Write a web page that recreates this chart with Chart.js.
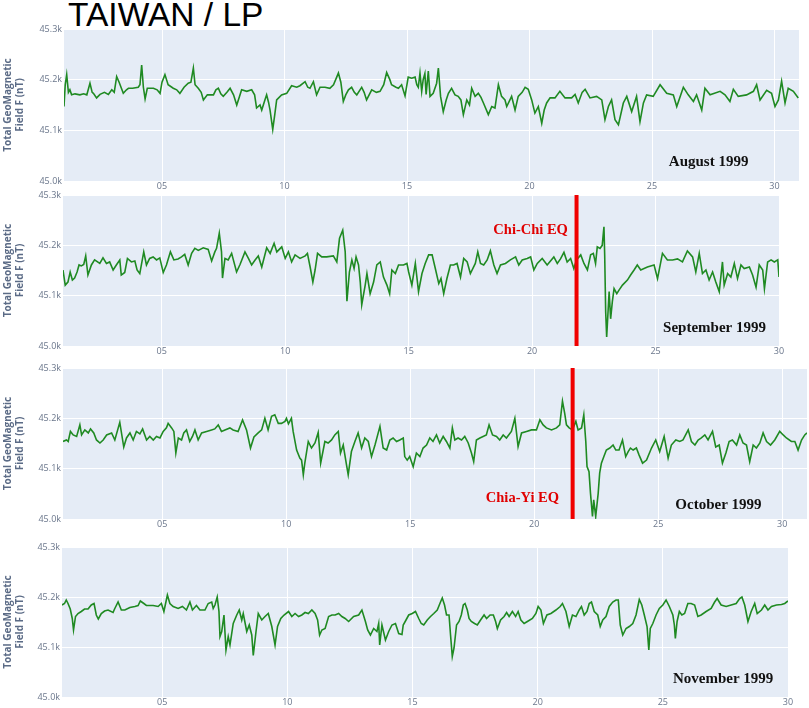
<!DOCTYPE html>
<html>
<head>
<meta charset="utf-8">
<script src="https://cdn.jsdelivr.net/npm/chart.js@4.4.1/dist/chart.umd.min.js"></script>
<style>
  html, body { margin: 0; padding: 0; background: #fff; overflow: hidden; }
  #page { position: relative; width: 809px; height: 708px; }
  #page canvas { position: absolute; left: 0; }
  #title { position: absolute; left: 68px; top: -2px; font: 33.5px/1 'Liberation Sans', Arial, sans-serif; color: #000; white-space: nowrap; }
</style>
</head>
<body>
<div id="page">
  <div id="title">TAIWAN / LP</div>
  <canvas id="aug"></canvas>
  <canvas id="sep"></canvas>
  <canvas id="oct"></canvas>
  <canvas id="nov"></canvas>
</div>
<script>
// axis ticks
const xTicks = [5, 10, 15, 20, 25, 30];
const xTickLabels = ['05', '10', '15', '20', '25', '30'];
const yTicks = [45000, 45100, 45200, 45300];
const yTickLabels = ['45.0k', '45.1k', '45.2k', '45.3k'];
const monthNames = ['August 1999', 'September 1999', 'October 1999', 'November 1999'];
const eqNames = ['Chi-Chi EQ', 'Chia-Yi EQ'];
const chiChiDay = 21.8;
const chiaYiDay = 21.55;

// total field F (nT), day of month
const augDays = [
  1.00,1.05,1.11,1.18,1.24,1.31,1.45,1.65,1.80,1.93,
  2.06,2.15,2.20,2.33,2.47,2.65,2.81,2.95,3.05,3.15,
  3.25,3.42,3.55,3.63,3.80,4.03,4.10,4.17,4.24,4.31,
  4.40,4.65,4.80,4.92,5.00,5.12,5.25,5.46,5.60,5.73,
  5.90,6.07,6.18,6.28,6.35,6.48,6.60,6.69,6.85,7.10,
  7.20,7.30,7.40,7.50,7.65,7.78,7.92,8.05,8.15,8.25,
  8.46,8.66,8.78,8.86,9.00,9.07,9.20,9.27,9.35,9.41,
  9.52,9.60,9.68,9.88,10.09,10.29,10.50,10.63,10.84,10.95,
  11.04,11.18,11.31,11.45,11.65,11.85,12.00,12.20,12.30,12.40,
  12.50,12.61,12.74,12.85,12.95,13.15,13.25,13.35,13.56,13.75,
  13.90,14.05,14.17,14.30,14.37,14.55,14.65,14.78,14.92,15.05,
  15.19,15.33,15.40,15.46,15.53,15.60,15.66,15.73,15.78,15.87,
  15.94,16.07,16.21,16.28,16.37,16.48,16.60,16.69,16.82,16.96,
  17.09,17.20,17.30,17.44,17.55,17.64,17.78,17.91,18.02,18.12,
  18.32,18.46,18.59,18.73,18.86,19.00,19.07,19.27,19.41,19.54,
  19.70,19.82,19.95,20.09,20.22,20.36,20.50,20.60,20.70,20.84,
  21.04,21.24,21.45,21.72,21.86,21.99,22.15,22.27,22.47,22.74,
  22.95,23.08,23.22,23.35,23.49,23.63,23.83,23.97,24.17,24.37,
  24.51,24.65,24.78,25.05,25.33,25.60,25.87,26.01,26.28,26.48,
  26.69,26.82,27.03,27.16,27.37,27.78,27.98,28.18,28.32,28.52,
  28.86,29.14,29.27,29.41,29.68,29.88,30.02,30.16,30.29,30.43,
  30.56,30.77,30.97
];
const augField = [
  45147,45190,45210,45175,45180,45170,45172,45170,45172,45170,
  45193,45175,45173,45164,45171,45175,45171,45180,45175,45206,
  45195,45173,45180,45183,45183,45185,45190,45229,45185,45162,
  45183,45183,45180,45173,45195,45210,45190,45183,45180,45173,
  45185,45193,45195,45223,45190,45183,45175,45160,45170,45170,
  45180,45183,45172,45167,45175,45183,45170,45150,45165,45180,
  45177,45180,45170,45144,45150,45140,45160,45170,45155,45140,
  45102,45130,45160,45170,45173,45188,45185,45188,45196,45185,
  45183,45196,45170,45185,45185,45183,45190,45213,45195,45157,
  45170,45180,45185,45175,45170,45185,45175,45160,45180,45175,
  45177,45190,45214,45200,45190,45185,45183,45190,45168,45205,
  45203,45205,45190,45185,45213,45177,45200,45212,45171,45217,
  45167,45173,45193,45223,45167,45137,45160,45173,45183,45170,
  45167,45160,45131,45160,45150,45183,45167,45173,45165,45154,
  45131,45147,45144,45190,45167,45160,45147,45167,45140,45167,
  45175,45185,45181,45160,45134,45147,45114,45140,45154,45164,
  45164,45177,45164,45164,45171,45154,45175,45181,45164,45167,
  45160,45121,45147,45160,45121,45111,45154,45167,45137,45167,
  45117,45154,45170,45167,45190,45173,45170,45147,45185,45170,
  45157,45170,45140,45183,45170,45177,45170,45157,45181,45167,
  45170,45177,45190,45160,45179,45173,45147,45160,45197,45154,
  45183,45177,45164
];

const sepDays = [
  1.00,1.09,1.20,1.29,1.38,1.47,1.57,1.65,1.74,1.84,
  1.92,2.01,2.15,2.28,2.49,2.62,2.76,2.89,3.03,3.16,
  3.30,3.36,3.50,3.61,3.77,3.91,4.00,4.11,4.27,4.38,
  4.51,4.65,4.79,4.92,5.06,5.19,5.35,5.49,5.66,5.80,
  5.93,6.07,6.21,6.34,6.48,6.68,6.88,7.02,7.15,7.22,
  7.33,7.42,7.46,7.56,7.69,7.83,8.03,8.17,8.37,8.51,
  8.64,8.78,8.91,9.05,9.25,9.39,9.55,9.66,9.86,10.00,
  10.13,10.26,10.40,10.60,10.81,10.90,11.01,11.12,11.21,11.31,
  11.48,11.68,11.95,12.09,12.20,12.33,12.43,12.50,12.60,12.70,
  12.79,12.87,12.97,13.04,13.10,13.24,13.31,13.44,13.58,13.71,
  13.85,13.98,14.12,14.23,14.32,14.46,14.59,14.79,14.93,15.00,
  15.13,15.27,15.40,15.54,15.67,15.81,15.95,16.08,16.22,16.31,
  16.42,16.55,16.69,16.82,16.96,17.10,17.23,17.37,17.50,17.70,
  17.80,17.91,18.04,18.18,18.31,18.45,18.58,18.72,18.92,19.12,
  19.33,19.46,19.60,19.80,19.94,20.07,20.21,20.41,20.61,20.88,
  21.02,21.15,21.29,21.42,21.56,21.69,21.80,21.97,22.10,22.24,
  22.37,22.48,22.57,22.64,22.75,22.84,22.91,22.94,22.98,23.02,
  23.12,23.18,23.25,23.32,23.43,23.52,23.66,23.86,23.99,24.13,
  24.26,24.40,24.67,24.94,25.08,25.28,25.48,25.69,25.89,26.09,
  26.29,26.50,26.63,26.77,26.90,27.04,27.17,27.31,27.44,27.58,
  27.71,27.78,27.92,28.05,28.19,28.32,28.46,28.59,28.80,28.93,
  29.07,29.20,29.34,29.41,29.54,29.68,29.81,29.95,30.00
];
const sepField = [
  45151,45121,45127,45147,45131,45135,45147,45161,45159,45162,
  45179,45141,45161,45171,45164,45175,45164,45167,45151,45161,
  45171,45141,45146,45174,45167,45169,45151,45144,45187,45161,
  45174,45177,45171,45175,45146,45161,45187,45171,45173,45177,
  45182,45161,45184,45194,45190,45195,45192,45169,45187,45194,
  45224,45187,45135,45174,45171,45184,45147,45162,45187,45174,
  45161,45171,45179,45157,45195,45184,45204,45187,45197,45174,
  45187,45167,45181,45174,45179,45184,45157,45127,45151,45184,
  45177,45177,45179,45167,45214,45230,45187,45089,45147,45171,
  45154,45177,45161,45127,45082,45121,45144,45104,45127,45161,
  45167,45137,45121,45104,45151,45144,45161,45161,45164,45147,
  45121,45164,45108,45144,45164,45181,45181,45154,45124,45134,
  45104,45134,45161,45161,45164,45137,45174,45167,45144,45164,
  45187,45164,45161,45171,45189,45161,45144,45161,45164,45171,
  45177,45161,45171,45174,45177,45151,45164,45174,45161,45177,
  45164,45173,45186,45167,45174,45154,45171,45181,45164,45151,
  45181,45184,45164,45197,45194,45200,45237,45181,45068,45018,
  45108,45054,45088,45114,45104,45111,45121,45131,45141,45151,
  45161,45151,45157,45161,45134,45184,45171,45171,45173,45167,
  45189,45177,45147,45184,45144,45151,45131,45147,45127,45108,
  45167,45121,45144,45137,45164,45134,45161,45154,45157,45141,
  45117,45161,45151,45114,45167,45171,45167,45171,45137
];

const octDays = [
  1.00,1.14,1.21,1.30,1.41,1.55,1.68,1.75,1.88,2.02,
  2.11,2.24,2.35,2.49,2.62,2.76,2.96,3.09,3.29,3.45,
  3.56,3.70,3.83,3.96,4.10,4.21,4.37,4.50,4.64,4.77,
  4.91,5.04,5.17,5.24,5.38,5.47,5.55,5.65,5.78,5.87,
  5.98,6.11,6.22,6.32,6.45,6.59,6.79,6.99,7.12,7.26,
  7.39,7.53,7.73,7.86,8.06,8.24,8.40,8.56,8.70,8.87,
  9.01,9.14,9.27,9.41,9.54,9.68,9.81,9.95,10.01,10.09,
  10.21,10.28,10.42,10.55,10.62,10.69,10.75,10.89,11.02,11.16,
  11.29,11.39,11.56,11.69,11.83,11.96,12.10,12.19,12.30,12.43,
  12.50,12.63,12.77,12.90,13.04,13.17,13.31,13.44,13.58,13.78,
  13.91,14.05,14.18,14.31,14.45,14.58,14.72,14.78,14.88,14.98,
  15.12,15.25,15.39,15.52,15.66,15.79,15.92,16.06,16.19,16.33,
  16.46,16.60,16.70,16.80,16.93,17.07,17.20,17.34,17.47,17.56,
  17.67,17.81,17.94,18.07,18.18,18.32,18.48,18.61,18.75,18.88,
  19.08,19.22,19.35,19.49,19.69,19.89,20.09,20.23,20.36,20.49,
  20.70,20.90,21.03,21.14,21.23,21.30,21.41,21.54,21.68,21.77,
  21.91,22.00,22.08,22.13,22.21,22.27,22.35,22.40,22.48,22.58,
  22.64,22.71,22.81,22.91,23.05,23.18,23.29,23.42,23.56,23.69,
  23.79,23.88,23.99,24.12,24.23,24.37,24.53,24.73,24.90,25.06,
  25.24,25.40,25.53,25.71,25.87,26.00,26.21,26.34,26.48,26.61,
  26.74,26.88,27.01,27.19,27.32,27.46,27.59,27.73,27.86,27.99,
  28.16,28.29,28.42,28.56,28.69,28.83,28.96,29.10,29.23,29.37,
  29.53,29.70,29.90,30.04,30.17,30.37,30.51,30.64,30.78,30.91,
  31.00
];
const octField = [
  45154,45157,45154,45174,45167,45164,45187,45167,45177,45171,
  45179,45171,45157,45151,45157,45167,45171,45157,45192,45143,
  45161,45171,45157,45174,45169,45179,45157,45164,45157,45164,
  45161,45174,45181,45190,45181,45174,45131,45161,45157,45171,
  45177,45154,45164,45177,45157,45171,45174,45177,45179,45187,
  45174,45177,45181,45177,45174,45197,45177,45141,45163,45171,
  45177,45200,45177,45204,45207,45190,45190,45194,45200,45189,
  45200,45174,45137,45121,45117,45088,45111,45154,45141,45151,
  45172,45111,45154,45151,45157,45167,45174,45131,45147,45108,
  45088,45134,45154,45171,45141,45161,45154,45124,45147,45184,
  45141,45137,45157,45161,45154,45157,45161,45124,45117,45124,
  45104,45131,45124,45141,45147,45161,45154,45167,45151,45164,
  45154,45141,45181,45157,45161,45157,45164,45151,45131,45114,
  45157,45161,45164,45167,45187,45167,45164,45157,45167,45161,
  45174,45200,45144,45171,45174,45177,45177,45197,45187,45181,
  45177,45181,45187,45234,45210,45187,45181,45177,45194,45177,
  45181,45207,45154,45104,45094,45051,45005,45038,45005,45051,
  45091,45111,45124,45137,45141,45147,45137,45137,45157,45124,
  45134,45141,45137,45141,45127,45111,45117,45141,45157,45134,
  45164,45121,45147,45157,45154,45157,45177,45154,45147,45157,
  45161,45167,45157,45174,45143,45147,45111,45131,45154,45157,
  45147,45167,45151,45147,45114,45147,45141,45151,45171,45154,
  45147,45157,45174,45167,45161,45154,45154,45137,45157,45167,
  45171
];

const novDays = [
  1.00,1.10,1.17,1.24,1.33,1.41,1.46,1.54,1.64,1.77,
  1.90,2.04,2.17,2.28,2.37,2.45,2.57,2.70,2.84,3.04,
  3.10,3.24,3.37,3.51,3.71,3.91,4.04,4.13,4.27,4.37,
  4.64,4.84,4.97,5.07,5.21,5.31,5.44,5.64,5.81,5.97,
  6.11,6.21,6.37,6.51,6.71,6.84,6.98,7.04,7.11,7.20,
  7.27,7.31,7.38,7.47,7.55,7.64,7.71,7.84,7.98,8.08,
  8.18,8.24,8.38,8.48,8.58,8.64,8.75,8.84,8.98,9.11,
  9.24,9.38,9.44,9.51,9.61,9.74,9.87,10.05,10.18,10.31,
  10.45,10.58,10.71,10.84,10.98,11.11,11.21,11.29,11.38,11.51,
  11.65,11.78,11.91,12.05,12.18,12.31,12.45,12.65,12.85,12.98,
  13.12,13.21,13.32,13.45,13.58,13.65,13.69,13.78,13.92,14.05,
  14.18,14.32,14.45,14.58,14.63,14.72,14.85,14.99,15.12,15.25,
  15.35,15.45,15.59,15.72,15.85,15.99,16.12,16.19,16.28,16.36,
  16.46,16.52,16.59,16.66,16.76,16.86,16.95,17.03,17.10,17.19,
  17.26,17.35,17.48,17.59,17.72,17.86,17.96,18.10,18.23,18.32,
  18.39,18.52,18.66,18.76,18.86,18.99,19.12,19.22,19.33,19.46,
  19.59,19.79,19.93,20.02,20.13,20.23,20.37,20.53,20.73,20.90,
  20.99,21.13,21.26,21.39,21.53,21.66,21.75,21.86,21.97,22.06,
  22.15,22.26,22.40,22.50,22.60,22.73,22.86,23.00,23.13,23.22,
  23.30,23.40,23.53,23.66,23.80,23.93,24.06,24.16,24.26,24.37,
  24.44,24.50,24.60,24.73,24.86,25.00,25.13,25.26,25.40,25.46,
  25.50,25.57,25.66,25.76,25.87,26.00,26.13,26.27,26.40,26.53,
  26.73,26.93,27.07,27.17,27.33,27.53,27.73,27.93,28.07,28.16,
  28.27,28.40,28.53,28.67,28.77,28.94,29.07,29.20,29.34,29.54,
  29.74,29.87,30.00
];
const novField = [
  45184,45187,45194,45187,45176,45157,45134,45161,45167,45171,
  45176,45176,45184,45187,45164,45156,45167,45172,45174,45169,
  45176,45190,45174,45174,45179,45181,45183,45192,45187,45183,
  45183,45181,45187,45171,45204,45187,45181,45177,45181,45174,
  45190,45174,45183,45174,45174,45187,45190,45177,45184,45200,
  45171,45121,45131,45164,45094,45121,45104,45147,45164,45174,
  45154,45167,45131,45144,45124,45083,45131,45167,45154,45161,
  45167,45141,45124,45104,45141,45157,45164,45171,45161,45167,
  45161,45164,45169,45167,45174,45167,45154,45124,45134,45137,
  45161,45164,45164,45167,45161,45157,45151,45161,45164,45174,
  45151,45134,45124,45137,45131,45147,45104,45144,45114,45131,
  45144,45147,45127,45125,45144,45152,45164,45167,45171,45157,
  45147,45144,45154,45161,45167,45174,45190,45198,45184,45164,
  45164,45124,45081,45098,45144,45151,45164,45184,45187,45174,
  45157,45151,45147,45144,45154,45164,45157,45164,45164,45151,
  45137,45154,45161,45169,45161,45171,45161,45171,45154,45147,
  45151,45157,45167,45181,45174,45147,45164,45167,45174,45181,
  45187,45171,45141,45164,45161,45174,45181,45164,45171,45187,
  45190,45171,45164,45141,45154,45161,45181,45190,45194,45194,
  45144,45124,45137,45141,45147,45164,45195,45184,45164,45141,
  45094,45137,45147,45164,45177,45184,45194,45181,45164,45144,
  45117,45151,45171,45164,45167,45187,45187,45184,45161,45164,
  45171,45177,45190,45197,45184,45181,45184,45187,45197,45200,
  45184,45151,45171,45187,45167,45174,45184,45174,45181,45184,
  45185,45187,45192
];

// page layout (pixels) and where the captions sit (in data units)
const PAD = 12;
const XAXIS_H = 18;
const TICK_COLOR = '#6b778c';
const panels = [
  { id: 'aug', days: augDays, field: augField, month: monthNames[0],
    top: 29, bottom: 181, left: 64, right: 799, xMax: 31, monthAt: [27.31, 45030] },
  { id: 'sep', days: sepDays, field: sepField, month: monthNames[1],
    top: 195, bottom: 346, left: 63, right: 779, xMax: 30, monthAt: [27.39, 45028],
    eq: { day: chiChiDay, name: eqNames[0], at: [21.45, 45222] } },
  { id: 'oct', days: octDays, field: octField, month: monthNames[2],
    top: 368, bottom: 519, left: 63, right: 807, xMax: 31, monthAt: [27.43, 45020],
    eq: { day: chiaYiDay, name: eqNames[1], at: [21.0, 45034] } },
  { id: 'nov', days: novDays, field: novField, month: monthNames[3],
    top: 547, bottom: 697, left: 62, right: 788, xMax: 30, monthAt: [27.41, 45028] }
];

function decor(p) {
  return {
    id: 'decor_' + p.id,
    beforeDraw(chart) {
      const { ctx, chartArea: a } = chart;
      ctx.save();
      ctx.fillStyle = '#e5ecf6';
      ctx.fillRect(a.left, a.top, a.right - a.left, a.bottom - a.top);
      ctx.restore();
    },
    afterDatasetsDraw(chart) {
      const { ctx, chartArea: a, scales: { x, y } } = chart;
      ctx.save();
      if (p.eq) {
        const ex = x.getPixelForValue(p.eq.day);
        ctx.strokeStyle = '#f00000';
        ctx.lineWidth = 4;
        ctx.beginPath();
        ctx.moveTo(ex, a.top);
        ctx.lineTo(ex, a.bottom);
        ctx.stroke();
        ctx.font = 'bold 14.5px "Liberation Serif", "Times New Roman", serif';
        ctx.fillStyle = '#e00000';
        ctx.textAlign = 'right';
        ctx.textBaseline = 'alphabetic';
        ctx.fillText(p.eq.name, x.getPixelForValue(p.eq.at[0]), y.getPixelForValue(p.eq.at[1]));
      }
      ctx.font = 'bold 15px "Liberation Serif", "Times New Roman", serif';
      ctx.fillStyle = '#111';
      ctx.textAlign = 'center';
      ctx.textBaseline = 'alphabetic';
      ctx.fillText(p.month, x.getPixelForValue(p.monthAt[0]), y.getPixelForValue(p.monthAt[1]));
      ctx.restore();
    }
  };
}

panels.forEach(p => {
  const canvas = document.getElementById(p.id);
  canvas.width = p.right + PAD;
  canvas.height = (p.bottom - p.top) + PAD + XAXIS_H;
  canvas.style.top = (p.top - PAD) + 'px';

  new Chart(canvas, {
    type: 'line',
    data: {
      datasets: [{
        data: p.days.map((d, i) => ({ x: d, y: p.field[i] })),
        borderColor: '#1f8a22',
        borderWidth: 1.6,
        pointRadius: 0,
        tension: 0,
        fill: false
      }]
    },
    options: {
      responsive: false,
      animation: false,
      events: [],
      layout: { padding: { top: PAD, right: PAD, bottom: 0, left: 0 } },
      plugins: { legend: { display: false }, tooltip: { enabled: false } },
      scales: {
        x: {
          type: 'linear',
          min: 1,
          max: p.xMax,
          afterBuildTicks: s => { s.ticks = xTicks.map(v => ({ value: v })); },
          afterFit: s => { s.height = XAXIS_H; },
          grid: { color: '#ffffff', lineWidth: 1, drawTicks: false },
          border: { display: false },
          ticks: {
            padding: 0,
            color: TICK_COLOR,
            maxRotation: 0,
            autoSkip: false,
            font: { family: 'Open Sans', size: 9 },
            callback: (v, i) => xTickLabels[i]
          }
        },
        y: {
          min: 45000,
          max: 45300,
          afterBuildTicks: s => { s.ticks = yTicks.map(v => ({ value: v })); },
          afterFit: s => { s.width = p.left; },
          grid: { color: '#ffffff', lineWidth: 1, drawTicks: false },
          border: { display: false },
          ticks: {
            padding: 2,
            color: TICK_COLOR,
            font: { family: 'Open Sans', size: 9 },
            callback: (v, i) => yTickLabels[i]
          },
          title: {
            display: true,
            text: ['Total GeoMagnetic', 'Field F (nT)'],
            color: '#5b6b86',
            font: { family: 'Open Sans', size: 10, weight: 'bold', lineHeight: 1.2 },
            padding: { top: 2, bottom: 0 }
          }
        }
      }
    },
    plugins: [decor(p)]
  });
});
</script>
</body>
</html>
